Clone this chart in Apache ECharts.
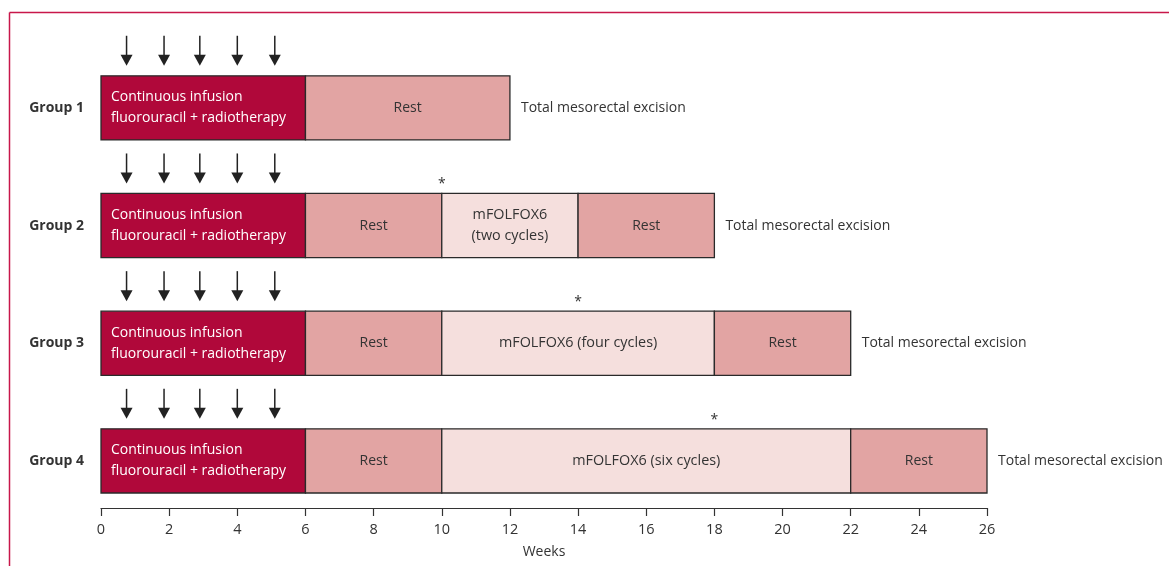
<!DOCTYPE html>
<html>
<head>
<meta charset="utf-8">
<script src="https://cdn.jsdelivr.net/npm/echarts@6/dist/echarts.min.js"></script>
<style>html,body{margin:0;padding:0;background:#fff;}#c{width:1169px;height:566px;}</style>
</head>
<body>
<div id="c"></div>
<script>
// ---- data ----
const groups = ['Group 1', 'Group 2', 'Group 3', 'Group 4'];
const segGroup = [0, 0, 1, 1, 1, 1, 2, 2, 2, 2, 3, 3, 3, 3];
const segStart = [0, 6, 0, 6, 10, 14, 0, 6, 10, 18, 0, 6, 10, 22];
const segEnd   = [6, 12, 6, 10, 14, 18, 6, 10, 18, 22, 6, 10, 22, 26];
const segKind  = ['crt','rest','crt','rest','fox','rest','crt','rest','fox','rest','crt','rest','fox','rest'];
const segLabel = [
  'Continuous infusion\nfluorouracil + radiotherapy', 'Rest',
  'Continuous infusion\nfluorouracil + radiotherapy', 'Rest', 'mFOLFOX6\n(two cycles)', 'Rest',
  'Continuous infusion\nfluorouracil + radiotherapy', 'Rest', 'mFOLFOX6 (four cycles)', 'Rest',
  'Continuous infusion\nfluorouracil + radiotherapy', 'Rest', 'mFOLFOX6 (six cycles)', 'Rest'
];
const arrowWeeks = [0.75, 1.85, 2.9, 4.0, 5.1];
const asteriskWeeks = [null, 10, 14, 18];
const surgeryWeeks = [12, 18, 22, 26];
const surgeryLabel = 'Total mesorectal excision';
const xTicks = [0, 26, 2]; // min, max, interval
const axisName = 'Weeks';

// ---- styles ----
const FONT = '"Open Sans", sans-serif';
const TXT = '#333333';
const fills = { crt: '#b0083a', rest: '#e2a4a3', fox: '#f5dfdd' };
const BAR_FRAC = 0.545;

const segData = segGroup.map((g, i) => [segStart[i], segEnd[i], g + 1]);
const arrowData = [];
groups.forEach((g, gi) => arrowWeeks.forEach(w => arrowData.push([w, gi + 1])));
const astData = asteriskWeeks.map((w, gi) => w == null ? null : [w, gi + 1]).filter(Boolean);
const surgData = surgeryWeeks.map((w, gi) => [w, gi + 1]);
const labelData = groups.map((g, gi) => [0, gi + 1]);

function barH(api) { return api.size([0, 1])[1] * BAR_FRAC; }

const chart = echarts.init(document.getElementById('c'));
chart.setOption({
  animation: false,
  backgroundColor: '#fff',
  grid: { left: 101, right: 182, top: 49, bottom: 58 },
  xAxis: {
    type: 'value', min: xTicks[0], max: xTicks[1], interval: xTicks[2],
    name: axisName, nameLocation: 'middle', nameGap: 37,
    nameTextStyle: { color: TXT, fontSize: 14, fontFamily: FONT },
    splitLine: { show: false },
    axisLine: { show: true, lineStyle: { color: '#333', width: 1.2 } },
    axisTick: { show: true, length: 8, lineStyle: { color: '#333', width: 1.2 } },
    axisLabel: { color: TXT, fontSize: 14.5, fontFamily: FONT, margin: 14 }
  },
  yAxis: {
    type: 'value', min: 0.5, max: 4.4, inverse: true, show: false
  },
  graphic: [
    { type: 'line', shape: { x1: 9.5, y1: 12.5, x2: 1169, y2: 12.5 }, style: { stroke: '#c8174a', lineWidth: 1.5 } },
    { type: 'line', shape: { x1: 9.5, y1: 12.5, x2: 9.5, y2: 566 }, style: { stroke: '#c8174a', lineWidth: 1.5 } }
  ],
  series: [
    {
      type: 'custom', data: segData, clip: false,
      renderItem: function (params, api) {
        const i = params.dataIndex;
        const p0 = api.coord([api.value(0), api.value(2)]);
        const p1 = api.coord([api.value(1), api.value(2)]);
        const h = barH(api);
        const kind = segKind[i];
        const crt = kind === 'crt';
        return {
          type: 'group',
          children: [
            { type: 'rect', shape: { x: p0[0], y: p0[1] - h / 2, width: p1[0] - p0[0], height: h },
              style: { fill: fills[kind], stroke: '#2a2a2a', lineWidth: 1.3 } },
            { type: 'text',
              style: {
                x: crt ? p0[0] + 10 : (p0[0] + p1[0]) / 2, y: p0[1],
                text: segLabel[i], align: crt ? 'left' : 'center', verticalAlign: 'middle',
                fill: crt ? '#ffffff' : TXT, font: (kind === 'fox' ? '14.4px ' : '14px ') + FONT, lineHeight: 21
              } }
          ]
        };
      }
    },
    {
      type: 'custom', data: arrowData, clip: false,
      renderItem: function (params, api) {
        const p = api.coord([api.value(0), api.value(1)]);
        const top = p[1] - barH(api) / 2;
        const tip = top - 10, start = top - 40, head = 11, hw = 6;
        return {
          type: 'group',
          children: [
            { type: 'line', shape: { x1: p[0], y1: start, x2: p[0], y2: tip - head + 1 },
              style: { stroke: '#222', lineWidth: 1.5 } },
            { type: 'polygon', shape: { points: [[p[0] - hw, tip - head], [p[0] + hw, tip - head], [p[0], tip]] },
              style: { fill: '#222' } }
          ]
        };
      }
    },
    {
      type: 'custom', data: astData, clip: false,
      renderItem: function (params, api) {
        const p = api.coord([api.value(0), api.value(1)]);
        const top = p[1] - barH(api) / 2;
        return { type: 'text', style: { x: p[0], y: top - 9, text: '*', align: 'center', verticalAlign: 'middle',
          fill: TXT, font: '14px ' + FONT } };
      }
    },
    {
      type: 'custom', data: surgData, clip: false,
      renderItem: function (params, api) {
        const p = api.coord([api.value(0), api.value(1)]);
        return { type: 'text', style: { x: p[0] + 11, y: p[1], text: surgeryLabel, align: 'left', verticalAlign: 'middle',
          fill: TXT, font: '14px ' + FONT } };
      }
    },
    {
      type: 'custom', data: labelData, clip: false,
      renderItem: function (params, api) {
        const p = api.coord([api.value(0), api.value(1)]);
        return { type: 'text', style: { x: p[0] - 17, y: p[1], text: groups[params.dataIndex], align: 'right', verticalAlign: 'middle',
          fill: TXT, font: 'bold 14px ' + FONT } };
      }
    }
  ]
});
</script>
</body>
</html>
